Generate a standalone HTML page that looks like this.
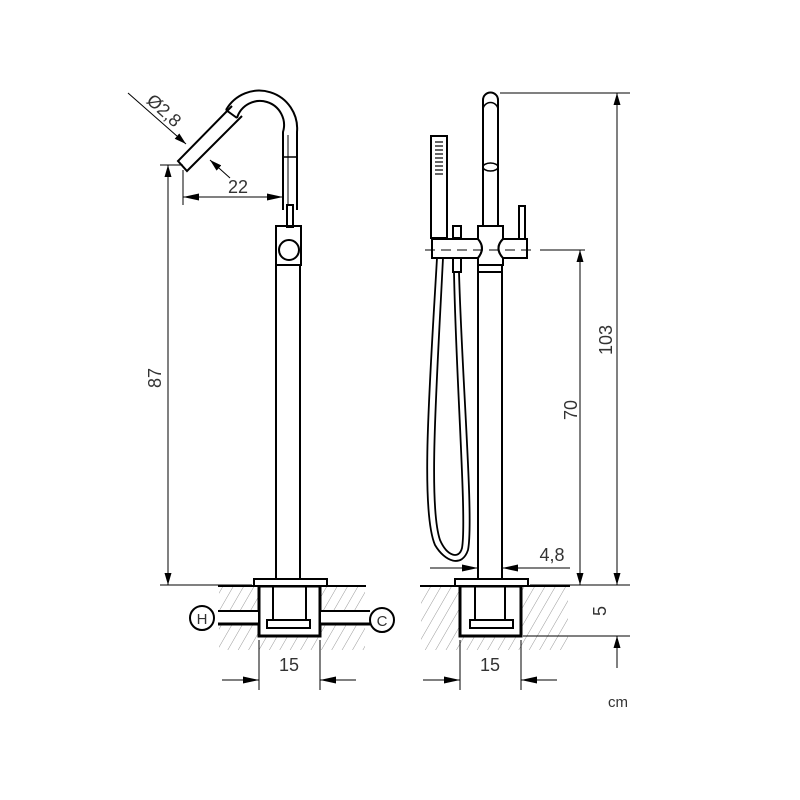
<!DOCTYPE html>
<html><head><style>body{margin:0;background:#fff}svg{display:block}text{font-family:"Liberation Sans","DejaVu Sans",sans-serif;font-size:18px;fill:#333}</style></head>
<body>
<svg width="800" height="800" viewBox="0 0 800 800" xmlns="http://www.w3.org/2000/svg">
<defs>
<pattern id="h" patternUnits="userSpaceOnUse" width="9" height="9" patternTransform="rotate(30)">
<line x1="0" y1="0" x2="0" y2="9" stroke="#999" stroke-width="1"/>
</pattern>
<marker id="a" viewBox="0 0 12 7" refX="12" refY="3.5" markerWidth="12" markerHeight="7" orient="auto-start-reverse" markerUnits="userSpaceOnUse"><path d="M0,0L12,3.5L0,7z" fill="#000"/></marker>
<marker id="b" viewBox="0 0 16 7" refX="16" refY="3.5" markerWidth="16" markerHeight="7" orient="auto-start-reverse" markerUnits="userSpaceOnUse"><path d="M0,0L16,3.5L0,7z" fill="#000"/></marker>
</defs>
<g fill="none" stroke="#000" stroke-width="2">
<path d="M297,210 L297,132 A38,38 0 0 0 226,110"/>
<path d="M283,210 L283,132 A24,24 0 0 0 237,118"/>
<line x1="288" y1="135" x2="288" y2="205" stroke-width="1"/>
<line x1="226" y1="110" x2="237" y2="118"/>
<path d="M232,106 L178,161 L187,171 L242,116"/>
<line x1="283" y1="157" x2="297" y2="157" stroke-width="1.5"/>
<rect x="287" y="205" width="6" height="22"/>
<rect x="276" y="226" width="25" height="39"/>
<circle cx="289" cy="250" r="10"/>
<line x1="276" y1="265" x2="276" y2="580"/>
<line x1="300" y1="265" x2="300" y2="580"/>
<rect x="219" y="586" width="146" height="64" fill="url(#h)" stroke="none"/>
<line x1="218" y1="586" x2="366" y2="586" stroke-width="2"/>
<rect x="259" y="586" width="61" height="50" fill="#fff" stroke-width="3"/>
<rect x="254" y="579" width="73" height="7" fill="#fff"/>
<line x1="273" y1="586" x2="273" y2="620"/>
<line x1="306" y1="586" x2="306" y2="620"/>
<rect x="267" y="620" width="43" height="8"/>
<rect x="218" y="611" width="40" height="13" fill="#fff" stroke="none"/>
<rect x="321" y="611" width="48" height="13" fill="#fff" stroke="none"/>
<line x1="218" y1="611" x2="258" y2="611"/><line x1="218" y1="624" x2="258" y2="624" stroke-width="3"/>
<line x1="321" y1="611" x2="370" y2="611"/><line x1="321" y1="624" x2="370" y2="624" stroke-width="3"/>
<circle cx="202" cy="618" r="12"/>
<circle cx="382" cy="620" r="12"/>
<path d="M483,225 L483,100 A7.5,7.5 0 0 1 498,100 L498,225"/>
<path d="M483,110 A7.5,7.5 0 0 1 498,110" stroke-width="1.5"/>
<ellipse cx="490.5" cy="167" rx="7.5" ry="4" stroke-width="1.5"/>
<rect x="431" y="136" width="16" height="102"/>
<g stroke-width="1.2"><line x1="435" y1="142" x2="443" y2="142"/><line x1="435" y1="146" x2="443" y2="146"/><line x1="435" y1="150" x2="443" y2="150"/><line x1="435" y1="154" x2="443" y2="154"/><line x1="435" y1="158" x2="443" y2="158"/><line x1="435" y1="162" x2="443" y2="162"/><line x1="435" y1="166" x2="443" y2="166"/><line x1="435" y1="170" x2="443" y2="170"/><line x1="435" y1="174" x2="443" y2="174"/></g>
<rect x="453" y="226" width="8" height="12"/>
<path d="M432,239 L478,239 Q486,248 478,258 L432,258 Z" fill="#fff"/>
<path d="M478,226 L503,226 L503,239 Q494,248 503,258 L503,265 L478,265 L478,258 Q486,248 478,239 Z" fill="#fff"/>
<rect x="519" y="206" width="6" height="33"/>
<path d="M503,239 Q494,248 503,258 L527,258 L527,239 Z" fill="#fff"/>
<line x1="478" y1="265" x2="478" y2="580"/>
<line x1="502" y1="265" x2="502" y2="580"/>
<line x1="478" y1="272" x2="502" y2="272"/>
<rect x="453" y="258" width="8" height="14"/>
<path d="M437,258 C430,380 420,510 435,545 C445,562 462,568 468,550 C474,520 462,380 459,272" stroke-width="1.8"/>
<path d="M443,258 C437,380 428,505 440,540 C447,556 459,560 462,548 C467,520 456,380 454,272" stroke-width="1.8"/>
<rect x="421" y="586" width="147" height="64" fill="url(#h)" stroke="none"/>
<line x1="420" y1="586" x2="570" y2="586"/>
<rect x="460" y="586" width="61" height="50" fill="#fff" stroke-width="3"/>
<rect x="455" y="579" width="73" height="7" fill="#fff"/>
<line x1="475" y1="586" x2="475" y2="620"/>
<line x1="505" y1="586" x2="505" y2="620"/>
<rect x="470" y="620" width="43" height="8"/>
</g>
<g fill="none" stroke="#000" stroke-width="1">
<line x1="160" y1="165" x2="183" y2="165"/>
<line x1="160" y1="585" x2="252" y2="585"/>
<line x1="168" y1="165" x2="168" y2="585" marker-start="url(#a)" marker-end="url(#a)"/>
<line x1="183" y1="170" x2="183" y2="205"/>
<line x1="183" y1="197" x2="283" y2="197" marker-start="url(#b)" marker-end="url(#b)"/>
<line x1="128" y1="93" x2="186" y2="144" marker-end="url(#a)"/>
<line x1="230" y1="178" x2="210" y2="160" marker-end="url(#a)"/>
<line x1="259" y1="640" x2="259" y2="690"/>
<line x1="320" y1="640" x2="320" y2="690"/>
<line x1="222" y1="680" x2="259" y2="680" marker-end="url(#b)"/>
<line x1="356" y1="680" x2="320" y2="680" marker-end="url(#b)"/>
<line x1="425" y1="250" x2="535" y2="250" stroke-dasharray="10,6"/>
<line x1="540" y1="250" x2="585" y2="250"/>
<line x1="580" y1="250" x2="580" y2="585" marker-start="url(#a)" marker-end="url(#a)"/>
<line x1="500" y1="93" x2="630" y2="93"/>
<line x1="617" y1="93" x2="617" y2="585" marker-start="url(#a)" marker-end="url(#a)"/>
<line x1="530" y1="585" x2="630" y2="585"/>
<line x1="523" y1="636" x2="630" y2="636"/>
<line x1="617" y1="636" x2="617" y2="668"/>
<line x1="617" y1="660" x2="617" y2="636" marker-end="url(#a)"/>
<line x1="430" y1="568" x2="478" y2="568" marker-end="url(#b)"/>
<line x1="570" y1="568" x2="502" y2="568" marker-end="url(#b)"/>
<line x1="460" y1="640" x2="460" y2="690"/>
<line x1="521" y1="640" x2="521" y2="690"/>
<line x1="423" y1="680" x2="460" y2="680" marker-end="url(#b)"/>
<line x1="557" y1="680" x2="521" y2="680" marker-end="url(#b)"/>
</g>
<text x="238" y="193" text-anchor="middle">22</text>
<text transform="translate(160,115) rotate(42)" text-anchor="middle">Ø2,8</text>
<text transform="translate(161,378) rotate(-90)" text-anchor="middle">87</text>
<text x="289" y="671" text-anchor="middle">15</text>
<text x="490" y="671" text-anchor="middle">15</text>
<text transform="translate(577,410) rotate(-90)" text-anchor="middle">70</text>
<text transform="translate(612,340) rotate(-90)" text-anchor="middle">103</text>
<text transform="translate(606,611) rotate(-90)" text-anchor="middle">5</text>
<text x="552" y="561" text-anchor="middle">4,8</text>
<text x="618" y="707" text-anchor="middle" style="font-size:15px">cm</text>
<text x="202" y="624" text-anchor="middle" style="font-size:15px">H</text>
<text x="382" y="626" text-anchor="middle" style="font-size:15px">C</text>
</svg>
</body></html>
